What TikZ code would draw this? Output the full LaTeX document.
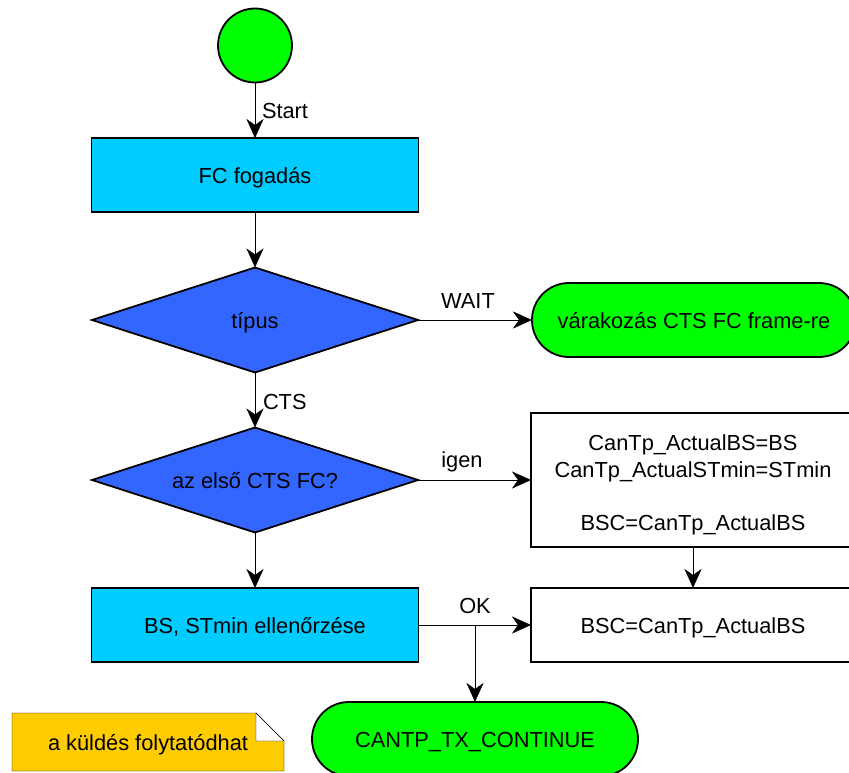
\documentclass[tikz,border=0pt]{standalone}
\usepackage{fontspec}
\setmainfont{Liberation Sans}
\usetikzlibrary{arrows.meta,shapes.geometric,backgrounds}

\definecolor{termgreen}{RGB}{0,255,0}
\definecolor{procblue}{RGB}{0,204,255}
\definecolor{decblue}{RGB}{51,102,255}
\definecolor{noteyellow}{RGB}{255,204,0}

\begin{document}
\begin{tikzpicture}[x=1pt,y=-1pt, line width=1.8pt,
  font=\fontsize{21.8}{26.5}\selectfont,
  every node/.style={inner sep=0pt, outer sep=0pt},
  onetext/.style={text height=17pt, text depth=0pt},
  startdot/.style={circle, draw, fill=termgreen, minimum size=74pt},
  procbox/.style={rectangle, draw, fill=procblue, minimum width=327pt, minimum height=74pt, onetext},
  decision/.style={diamond, draw, fill=decblue, shape aspect=3.1, minimum width=326pt, minimum height=105pt, onetext},
  terminal/.style={rectangle, draw, fill=termgreen, rounded corners=36.9pt, minimum height=74pt, onetext},
  actionbox/.style={rectangle, draw, fill=white, minimum width=324pt, align=center},
  flow/.style={-{Stealth[length=19pt,width=17pt,inset=6pt]}},
  edgelbl/.style={anchor=base}
]
\useasboundingbox (0,0) rectangle (849,773);
\clip (0,0) rectangle (849,773);

% main column
\node[startdot] (start) at (255,45.5) {};
\node[procbox] (recv) at (255,175) {FC fogadás};
\node[decision] (type) at (255,320) {típus};
\node[decision] (first) at (255,480) {az első CTS FC?};
\node[procbox] (check) at (255,625) {BS, STmin ellenőrzése};

% right column
\node[terminal, minimum width=324pt] (wait) at (694,320) {várakozás CTS FC frame-re};
\node[actionbox, minimum height=134pt] (init) at (693,480)
  {\rule{0pt}{26pt}CanTp\_ActualBS=BS\\CanTp\_ActualSTmin=STmin\\[26.5pt]BSC=CanTp\_ActualBS};
\node[actionbox, minimum height=74pt, onetext] (bsc) at (693,625) {BSC=CanTp\_ActualBS};

% result
\node[terminal, minimum width=326pt] (cont) at (475,739) {CANTP\_TX\_CONTINUE};

% comment note with folded corner
\node[onetext] (note) at (148,742) {a küldés folytatódhat};
\begin{pgfonlayer}{background}
  \coordinate (nA) at (12,713);
  \coordinate (nB) at (256,713);
  \coordinate (nC) at (284,741);
  \coordinate (nD) at (284,771);
  \coordinate (nE) at (12,771);
  \coordinate (nF) at (256,741);
  \draw[fill=noteyellow] (nA) -- (nB) -- (nC) -- (nD) -- (nE) -- cycle;
  \draw[fill=white] (nB) -- (nF) -- (nC) -- cycle;
\end{pgfonlayer}

% connectors
\draw[flow] (start) -- (recv);
\draw[flow] (recv) -- (type);
\draw[flow] (type) -- (first);
\draw[flow] (first) -- (check);
\draw[flow] (type.east) -- (wait.west);
\draw[flow] (first.east) -- (init.west);
\draw[flow] (init) -- (bsc);
\draw[flow] (check.east) -- (bsc.west);
\coordinate (split) at (check.east -| cont.north);
\draw[flow] (split) -- (cont.north);

% connector labels
\node[edgelbl, anchor=base west] (lstart) at (262,119) {Start};
\node[edgelbl, anchor=base west] (lcts) at (263,409) {CTS};
\node[edgelbl] (lwait) at (468,308) {WAIT};
\node[edgelbl] (ligen) at (462,467) {igen};
\node[edgelbl] (lok) at (475,613) {OK};
\end{tikzpicture}
\end{document}
